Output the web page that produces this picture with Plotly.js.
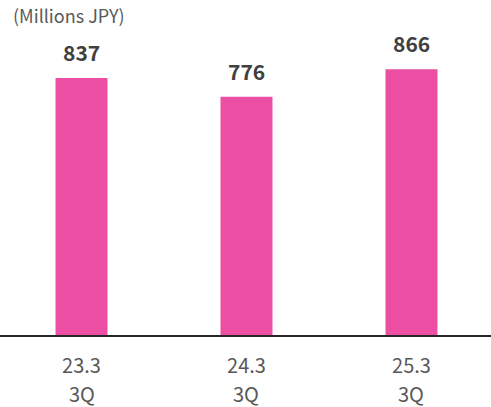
<!DOCTYPE html>
<html>
<head>
<meta charset="utf-8">
<script src="https://cdn.plot.ly/plotly-3.0.1.min.js"></script>
<style>html,body{margin:0;padding:0;background:#fff;}#chart{width:491px;height:407px;}</style>
</head>
<body>
<div id="chart"></div>
<script>
const periodLabels = ["23.3", "24.3", "25.3"];
const quarterLabels = ["3Q", "3Q", "3Q"];
const values = [837, 776, 866];
const valueLabels = ["837", "776", "866"];
const unitLabel = "(Millions JPY)";

const FONT = '"Noto Sans CJK JP", "Noto Sans", sans-serif';
const idx = periodLabels.map((_, i) => i);

const trace = {
  type: 'bar',
  x: idx,
  y: values,
  marker: { color: '#EC4EA3' },
  hoverinfo: 'none'
};

const valueAnnotations = values.map((v, i) => ({
  x: i, y: v, xref: 'x', yref: 'y',
  text: '<b>' + valueLabels[i] + '</b>',
  showarrow: false,
  yanchor: 'middle',
  yshift: 26,
  font: { family: FONT, size: 21, color: '#404040' }
}));

const quarterAnnotations = quarterLabels.map((q, i) => ({
  x: i, y: 0, xref: 'x', yref: 'paper',
  text: q,
  showarrow: false,
  yanchor: 'middle',
  yshift: -58,
  borderpad: 0,
  font: { family: FONT, size: 20, color: '#595959' }
}));

const layout = {
  width: 491, height: 407,
  margin: { l: 0, r: 0, t: 28, b: 72 },
  paper_bgcolor: '#ffffff',
  plot_bgcolor: '#ffffff',
  bargap: 0.685,
  showlegend: false,
  title: {
    text: unitLabel,
    x: 13 / 491, xanchor: 'left', xref: 'container',
    y: 1 - 17 / 407, yanchor: 'middle', yref: 'container',
    font: { family: FONT, size: 18, color: '#595959' }
  },
  xaxis: {
    range: [-0.494, 2.482],
    tickvals: idx,
    ticktext: periodLabels,
    showline: true, linecolor: '#262626', linewidth: 2,
    showgrid: false, zeroline: false, ticks: '',
    ticklabelstandoff: 12,
    tickfont: { family: FONT, size: 20, color: '#595959' }
  },
  yaxis: {
    range: [0, 1000],
    visible: false, showgrid: false, zeroline: false
  },
  annotations: valueAnnotations.concat(quarterAnnotations)
};

Plotly.newPlot('chart', [trace], layout, { displayModeBar: false, staticPlot: true });
</script>
</body>
</html>
